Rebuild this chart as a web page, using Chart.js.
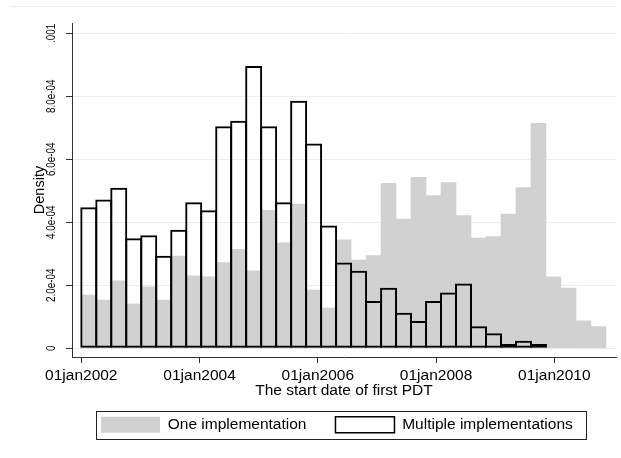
<!DOCTYPE html>
<html>
<head>
<meta charset="utf-8">
<title>The start date of first PDT</title>
<script src="https://cdn.jsdelivr.net/npm/chart.js@4.4.1/dist/chart.umd.min.js"></script>
<style>
  html, body { margin: 0; padding: 0; background: #fff; }
  #wrap { width: 621px; height: 458px; position: relative; }
</style>
</head>
<body>
<div id="wrap"><canvas id="pdtChart"></canvas></div>
<script>
// Histogram bins (x in years): both series start on 01jan2002, quarterly-ish bins
const binStart = 2002.0;
const binWidth = 0.2535; // about 92.6 days

// Density per bin
const oneImplementation = [
  1.69e-4, 1.53e-4, 2.14e-4, 1.41e-4, 1.95e-4, 1.53e-4, 2.93e-4, 2.30e-4, 2.27e-4, 2.72e-4,
  3.14e-4, 2.46e-4, 4.38e-4, 3.35e-4, 4.58e-4, 1.85e-4, 1.28e-4, 3.44e-4, 2.80e-4, 2.94e-4,
  5.24e-4, 4.10e-4, 5.43e-4, 4.85e-4, 5.26e-4, 4.21e-4, 3.50e-4, 3.55e-4, 4.26e-4, 5.10e-4,
  7.14e-4, 2.27e-4, 1.91e-4, 0.87e-4, 0.69e-4
];
const multipleImplementations = [
  4.48e-4, 4.72e-4, 5.10e-4, 3.49e-4, 3.59e-4, 2.94e-4, 3.76e-4, 4.64e-4, 4.38e-4, 7.05e-4,
  7.22e-4, 8.96e-4, 7.05e-4, 4.64e-4, 7.86e-4, 6.50e-4, 3.90e-4, 2.72e-4, 2.46e-4, 1.50e-4,
  1.92e-4, 1.13e-4, 0.87e-4, 1.50e-4, 1.77e-4, 2.06e-4, 0.70e-4, 0.48e-4, 0.14e-4, 0.24e-4,
  0.14e-4
];

const xTickValues = [2002, 2004, 2006, 2008, 2010];
const xTickLabels = ['01jan2002', '01jan2004', '01jan2006', '01jan2008', '01jan2010'];
const yTickValues = [0, 0.0002, 0.0004, 0.0006, 0.0008, 0.001];
const yTickLabels = ['0', '2.0e-04', '4.0e-04', '6.0e-04', '8.0e-04', '.001'];

const fontFamily = '"Liberation Sans", Arial, Helvetica, sans-serif';
const axisColor = '#333';
const gridColor = '#e8eff0';
const grayFill = '#d1d1d1';

Chart.defaults.font.family = fontFamily;
Chart.defaults.color = '#000';

// bin centres for the linear x scale
function toBins(values) {
  return values.map((v, i) => ({x: binStart + (i + 0.5) * binWidth, y: v}));
}

// Stata draws the y tick labels turned on their side (and a bit condensed)
const rotatedYLabels = {
  id: 'rotatedYLabels',
  afterDraw(chart) {
    const scale = chart.scales.y;
    const ctx = chart.ctx;
    ctx.save();
    ctx.font = '13.5px ' + fontFamily;
    ctx.fillStyle = '#000';
    ctx.textAlign = 'center';
    ctx.textBaseline = 'middle';
    scale.ticks.forEach(tick => {
      ctx.save();
      ctx.translate(scale.right - 20.5, scale.getPixelForValue(tick.value));
      ctx.rotate(-Math.PI / 2);
      ctx.scale(0.73, 1);
      ctx.fillText(tick.label, 0, 0);
      ctx.restore();
    });
    ctx.restore();
  }
};

// frame round the legend, and the faint line along the top of the graph region
const graphFrame = {
  id: 'graphFrame',
  beforeDraw(chart) {
    const ctx = chart.ctx;
    ctx.save();
    ctx.strokeStyle = '#edf2f3';
    ctx.lineWidth = 1;
    ctx.beginPath();
    ctx.moveTo(10, 6.5);
    ctx.lineTo(chart.chartArea.right, 6.5);
    ctx.stroke();
    ctx.restore();
  },
  afterDraw(chart) {
    const boxes = chart.legend.legendHitBoxes;
    if (!boxes || !boxes.length) return;
    const first = boxes[0];
    const last = boxes[boxes.length - 1];
    const ctx = chart.ctx;
    ctx.save();
    ctx.strokeStyle = '#222';
    ctx.lineWidth = 1;
    const left = Math.round(first.left - 5.5) + 0.5;
    const right = Math.round(last.left + last.width + 13) + 0.5;
    const top = Math.round(first.top - 6) + 0.5;
    const bottom = Math.round(first.top + first.height + 6.5) + 0.5;
    ctx.strokeRect(left, top, right - left, bottom - top);
    ctx.restore();
  }
};

const ctx = document.getElementById('pdtChart').getContext('2d');
const pdtChart = new Chart(ctx, {
  type: 'bar',
  data: {
    datasets: [{
      label: 'One implementation',
      data: toBins(oneImplementation),
      backgroundColor: grayFill,
      borderWidth: 0,
      barPercentage: 1,
      categoryPercentage: 1,
      grouped: false,
      order: 2
    }, {
      label: 'Multiple implementations',
      data: toBins(multipleImplementations),
      backgroundColor: 'rgba(0,0,0,0)',
      borderColor: '#000',
      borderWidth: 2,
      borderSkipped: false,
      barPercentage: 17 / 15, // borders of neighbours overlap into one 2px line
      categoryPercentage: 1,
      grouped: false,
      order: 1
    }]
  },
  options: {
    responsive: true,
    maintainAspectRatio: false,
    animation: false,
    layout: {padding: {top: 23, right: 5, left: 0, bottom: 15.3}},
    plugins: {
      tooltip: {enabled: false},
      legend: {
        position: 'bottom',
        align: 'start',
        fullSize: false,
        labels: {
          boxWidth: 59,
          boxHeight: 16,
          padding: 29,
          color: '#000',
          font: {size: 15.5},
          generateLabels: chart => [
            {text: 'One implementation', fillStyle: grayFill, strokeStyle: grayFill, lineWidth: 0, datasetIndex: 0},
            {text: 'Multiple implementations', fillStyle: '#fff', strokeStyle: '#000', lineWidth: 1.5, datasetIndex: 1}
          ]
        }
      }
    },
    scales: {
      x: {
        type: 'linear',
        min: 2001.843,
        max: 2011.043,
        offset: false,
        afterBuildTicks: scale => { scale.ticks = xTickValues.map(v => ({value: v})); },
        afterFit: scale => { scale.height = 30.7; },
        ticks: {
          callback: (value, index) => xTickLabels[index],
          font: {size: 15.5},
          color: '#000',
          padding: 3,
          maxRotation: 0,
          autoSkip: false
        },
        grid: {
          drawOnChartArea: false,
          offset: false,
          tickLength: 6,
          tickColor: axisColor
        },
        border: {display: true, color: axisColor, width: 1},
        title: {
          display: true,
          text: 'The start date of first PDT',
          font: {size: 15.5},
          color: '#000',
          padding: {top: 0, bottom: -12.5}
        }
      },
      y: {
        type: 'linear',
        min: -2.762e-5,
        max: 1.0327e-3,
        afterBuildTicks: scale => { scale.ticks = yTickValues.map(v => ({value: v})); },
        afterFit: scale => { scale.width = 72; },
        ticks: {
          display: false,
          callback: (value, index) => yTickLabels[index]
        },
        grid: {
          color: gridColor,
          lineWidth: 1,
          tickLength: 6,
          tickColor: axisColor
        },
        border: {display: true, color: axisColor, width: 1},
        title: {
          display: true,
          text: 'Density',
          font: {size: 14.5},
          color: '#000',
          padding: {top: 31, bottom: 0}
        }
      }
    }
  },
  plugins: [rotatedYLabels, graphFrame]
});
</script>
</body>
</html>
